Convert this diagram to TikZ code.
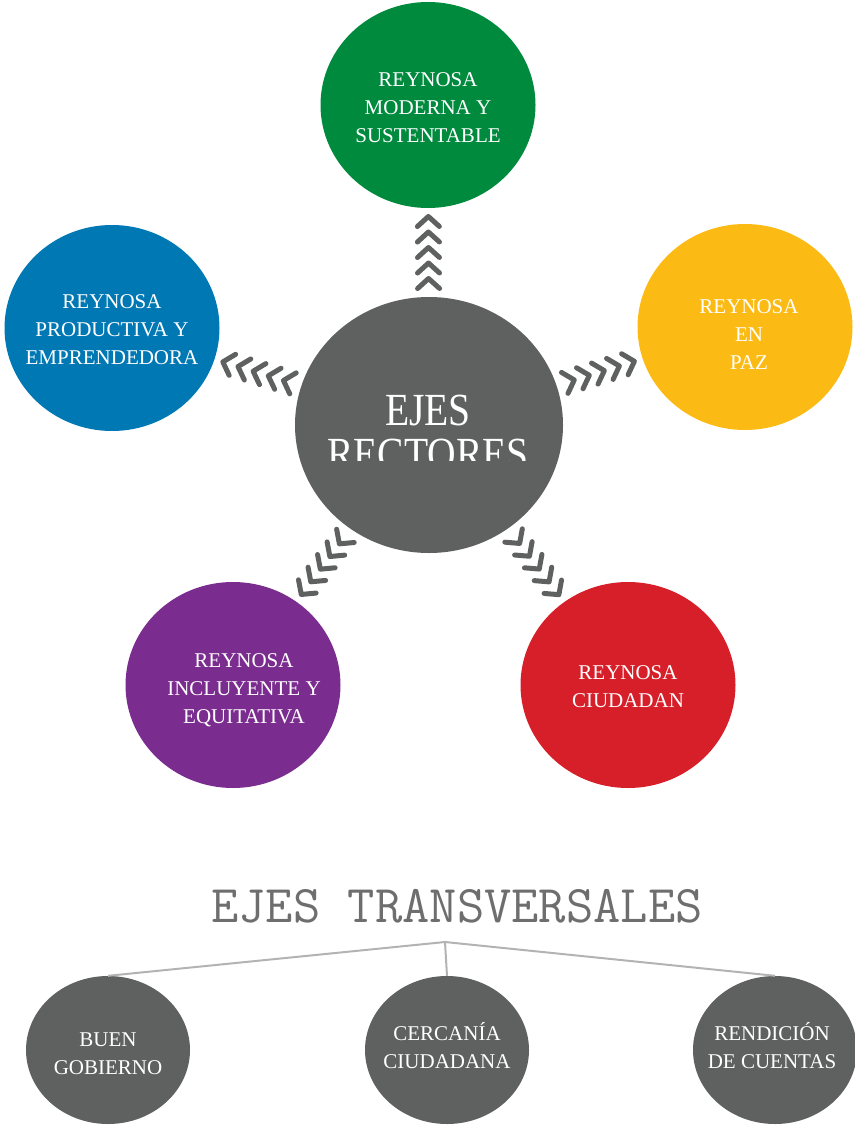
\documentclass[tikz,border=0pt]{standalone}
\usepackage{fontspec}
\setmainfont{Liberation Serif}
\newfontfamily\condserif[FakeStretch=0.86]{Liberation Serif}
\usetikzlibrary{shapes.geometric,decorations.markings}
\definecolor{cgreen}{HTML}{008A3E}
\definecolor{cblue}{HTML}{0078B4}
\definecolor{cyellow}{HTML}{FCBB14}
\definecolor{cgray}{HTML}{5F6060}
\definecolor{cpurple}{HTML}{7B2C8F}
\definecolor{cred}{HTML}{D71F29}
\definecolor{ctitle}{HTML}{6E6E6E}
\definecolor{cline}{HTML}{B3B3B3}
\tikzset{
  eje/.style={ellipse, inner sep=0pt, minimum width=215pt, minimum height=206pt},
  trans/.style={ellipse, fill=cgray, inner sep=0pt, minimum width=164pt, minimum height=148pt},
  lab/.style={text=white, align=center, font=\fontsize{21}{28}\selectfont},
  chevrons/.style={decoration={markings,
      mark=between positions 0.15 and 0.86 step 0.175 with {
        \draw[cgray, line width=5pt, line cap=round, line join=round]
          (-5,-11) -- (5,0) -- (-5,11);}},
      decorate},
  tline/.style={draw=cline, line width=2pt}
}
\begin{document}
\begin{tikzpicture}[x=1pt,y=-1pt]
\useasboundingbox (0,0) rectangle (854,1129);
% main circles
\node[eje, fill=cgray, minimum width=268pt, minimum height=256pt] (c) at (429,425) {};
\node[eje, fill=cgreen] (g) at (428,105) {};
\node[eje, fill=cblue] (b) at (112,328) {};
\node[eje, fill=cyellow] (y) at (745,327) {};
\node[eje, fill=cpurple] (p) at (233,685) {};
\node[eje, fill=cred] (r) at (628,685) {};
% labels
\node[lab] (tg) at (428,108) {REYNOSA\\MODERNA Y\\SUSTENTABLE};
\node[lab] (tb) at (112,330) {REYNOSA\\PRODUCTIVA Y\\EMPRENDEDORA};
\node[lab] (ty) at (749,335) {REYNOSA\\EN\\PAZ};
\node[lab] (tp) at (244,690) {REYNOSA\\INCLUYENTE Y\\EQUITATIVA};
\node[lab] (tr) at (628,687) {REYNOSA\\CIUDADAN};
\begin{scope}
  \clip (300,370) rectangle (560,460);
  \node[text=white, align=center, font=\condserif\fontsize{46}{44}\selectfont] (tc) at (428,432) {EJES\\RECTORES};
\end{scope}
% chevron connectors
\path[chevrons] (c) -- (g);
\path[chevrons] (c) -- (b);
\path[chevrons] (c) -- (y);
\path[chevrons] (c) -- (p);
\path[chevrons] (c) -- (r);
% transversal axes
\node[text=ctitle, font=\ttfamily\fontsize{53}{53}\selectfont] (tt) at (457,906) {EJES TRANSVERSALES};
\coordinate (apex) at (445,942);
\node[trans] (t1) at (108,1050) {};
\node[trans] (t2) at (447,1050) {};
\node[trans] (t3) at (775,1050) {};
\draw[tline] (apex) -- (t1.north);
\draw[tline] (apex) -- (t2.north);
\draw[tline] (apex) -- (t3.north);
\node[lab] at (108,1054) {BUEN\\GOBIERNO};
\node[lab] at (447,1046) {CERCANÍA\\CIUDADANA};
\node[lab] at (772,1046) {RENDICIÓN\\DE CUENTAS};
\end{tikzpicture}
\end{document}
